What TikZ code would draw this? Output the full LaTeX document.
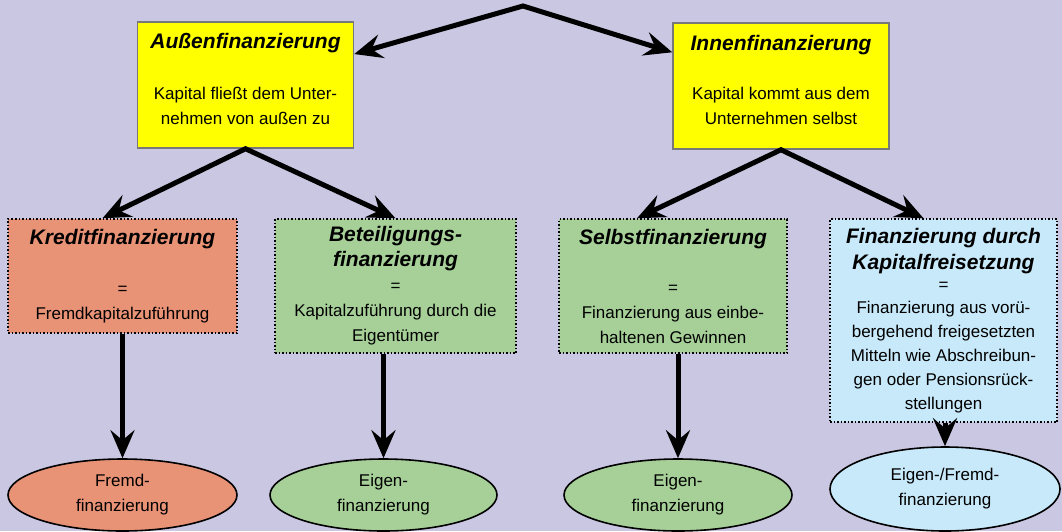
\documentclass[tikz,border=0pt]{standalone}
\usepackage{fontspec}
\setmainfont{Liberation Sans}
\usetikzlibrary{arrows.meta,shapes.geometric}

\definecolor{hintergrund}{RGB}{201,199,225}
\definecolor{gelb}{RGB}{255,255,0}
\definecolor{rahmen}{RGB}{120,120,120}
\definecolor{lachs}{RGB}{232,146,118}
\definecolor{gruen}{RGB}{166,208,152}
\definecolor{hellblau}{RGB}{199,233,249}

\newcommand{\titel}[1]{{\fontsize{21}{25}\selectfont\bfseries\itshape #1}}

\begin{document}
\begin{tikzpicture}[x=1pt, y=-1pt, font=\fontsize{17}{25}\selectfont,
  kasten/.style={rectangle, align=center, inner sep=0pt},
  gelbkasten/.style={kasten, fill=gelb, draw=rahmen, line width=1.5pt, minimum width=216, minimum height=126},
  punktkasten/.style={kasten, draw=black, line width=1.5pt, dotted, minimum width=228},
  ziel/.style={ellipse, draw=black, line width=1.6pt, align=center, inner sep=0pt, minimum width=228, minimum height=72},
  pfeil/.style={line width=5pt, -{Stealth[length=28pt, width=24pt, inset=10pt]}},
  doppelpfeil/.style={line width=5pt, {Stealth[length=28pt, width=24pt, inset=10pt]}-{Stealth[length=28pt, width=24pt, inset=10pt]}}]
\path[use as bounding box, fill=hintergrund] (0,0) rectangle (1062,531);
\coordinate (spitze) at (523,6);
% obere Ebene
\node[gelbkasten] (aussen) at (245.5,85) {\titel{Außenfinanzierung}\\[26pt] Kapital fließt dem Unter-\\ nehmen von außen zu\rule[-13pt]{0pt}{0pt}};
\node[gelbkasten] (innen) at (781,86) {\titel{Innenfinanzierung}\\[24pt] Kapital kommt aus dem\\ Unternehmen selbst\rule[-13pt]{0pt}{0pt}};
% mittlere Ebene
\node[punktkasten, fill=lachs, minimum width=229, minimum height=114] (kredit) at (122.5,276) {\titel{Kreditfinanzierung}\\[25pt] =\\ Fremdkapitalzuführung};
\node[punktkasten, fill=gruen, minimum width=241, minimum height=134] (beteiligung) at (395.5,286) {\titel{Beteiligungs-}\\ \titel{finanzierung}\\ =\\ Kapitalzuführung durch die\\ Eigentümer};
\node[punktkasten, fill=gruen, minimum height=134] (selbst) at (673,286) {\titel{Selbstfinanzierung}\\[24pt] =\\ Finanzierung aus einbe-\\ haltenen Gewinnen};
\node[punktkasten, fill=hellblau, minimum width=227, minimum height=203] (freisetzung) at (943.5,320.5) {\titel{Finanzierung durch}\\[1pt] \titel{Kapitalfreisetzung}\\[-4pt] =\\[-2pt] Finanzierung aus vorü-\\[-1pt] bergehend freigesetzten\\[-1pt] Mitteln wie Abschreibun-\\[-1pt] gen oder Pensionsrück-\\[-1pt] stellungen};
% untere Ebene
\node[ziel, fill=lachs, minimum width=229] (fremd) at (122.5,495) {Fremd-\\ finanzierung};
\node[ziel, fill=gruen, minimum width=227] (eigenA) at (383.5,495) {Eigen-\\ finanzierung};
\node[ziel, fill=gruen] (eigenB) at (678,495) {Eigen-\\ finanzierung};
\node[ziel, fill=hellblau, minimum width=230, minimum height=84] (eigenfremd) at (945,489) {Eigen-/Fremd-\\ finanzierung};
% Pfeile
\draw[doppelpfeil] (aussen) -- (spitze) -- (innen);
\draw[doppelpfeil] ([xshift=-20pt]kredit.north) -- (aussen.south) -- (beteiligung.north);
\draw[doppelpfeil] ([xshift=-36pt]selbst.north) -- (innen.south) -- ([xshift=-20pt]freisetzung.north);
\draw[pfeil] (kredit) -- (fremd);
\draw[pfeil] (beteiligung.south -| eigenA) -- (eigenA);
\draw[pfeil] (selbst.south -| eigenB) -- (eigenB);
\draw[pfeil] (freisetzung.south -| eigenfremd) -- (eigenfremd);
\end{tikzpicture}
\end{document}
